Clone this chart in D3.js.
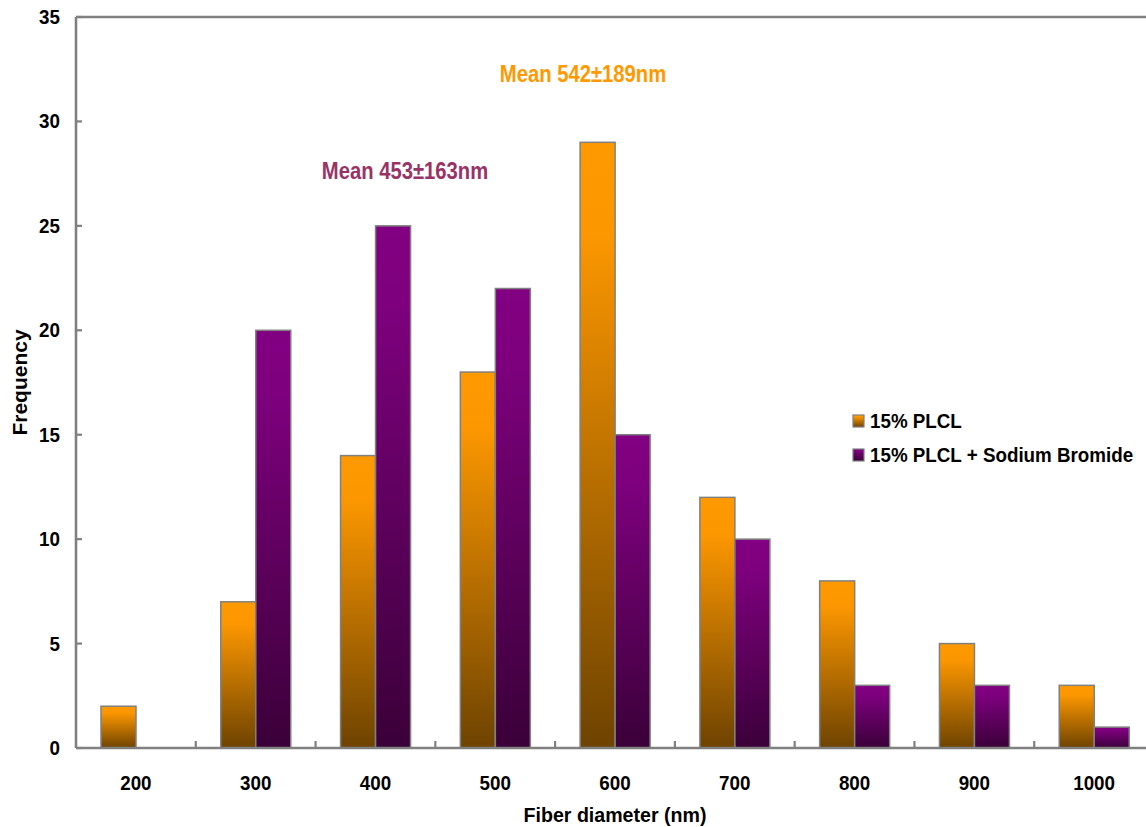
<!DOCTYPE html>
<html>
<head>
<meta charset="utf-8">
<script src="https://cdn.jsdelivr.net/npm/d3@7"></script>
<style>
  html, body { margin: 0; padding: 0; background: #fff; }
  svg { display: block; }
  text { font-family: "Liberation Sans", Arial, sans-serif; font-weight: bold; }
</style>
</head>
<body>
<svg id="chart" width="1146" height="827"></svg>
<script>
// Fiber diameter histogram bins (nm)
const categories = ["200", "300", "400", "500", "600", "700", "800", "900", "1000"];
// Frequency per bin
const plclValues = [2, 7, 14, 18, 29, 12, 8, 5, 3];
const sodiumValues = [0, 20, 25, 22, 15, 10, 3, 3, 1];
const seriesNames = ["15% PLCL", "15% PLCL + Sodium Bromide"];
const yTicks = [0, 5, 10, 15, 20, 25, 30, 35];
const meanLabels = ["Mean 542\u00b1189nm", "Mean 453\u00b1163nm"];

const svg = d3.select("#chart");
const m = { left: 76, top: 17, right: 1154, bottom: 748 };
const axisColor = "#808080";

const x = d3.scaleBand().domain(categories).range([m.left, m.right]).paddingInner(0).paddingOuter(0);
const y = d3.scaleLinear().domain([0, 35]).range([m.bottom, m.top]);
const sub = d3.scaleBand().domain([0, 1]).range([25, 95]);

// Vertical gradients, one per series, stretched over each bar
const defs = svg.append("defs");
const grads = [
  { id: "gOrange", stops: [[0, "#ff9900"], [0.15, "#fc9700"], [1, "#6e4300"]] },
  { id: "gPurple", stops: [[0, "#820082"], [0.15, "#7e007e"], [1, "#3a0038"]] }
];
grads.forEach(g => {
  const lg = defs.append("linearGradient").attr("id", g.id)
    .attr("x1", 0).attr("y1", 0).attr("x2", 0).attr("y2", 1);
  g.stops.forEach(s => lg.append("stop").attr("offset", s[0]).attr("stop-color", s[1]));
});

// Text helper with horizontal compression factor
function label(parent, px, py, str, size, anchor, fill, sx) {
  return parent.append("text")
    .attr("transform", `translate(${px},${py}) scale(${sx},1)`)
    .attr("text-anchor", anchor)
    .attr("font-size", size)
    .attr("fill", fill || "#000")
    .text(str);
}

// Bars
const series = [plclValues, sodiumValues];
series.forEach((vals, si) => {
  svg.append("g").selectAll("rect")
    .data(vals.map((v, i) => ({ v, c: categories[i] })).filter(d => d.v > 0))
    .join("rect")
    .attr("x", d => x(d.c) + sub(si))
    .attr("y", d => y(d.v))
    .attr("width", sub.bandwidth())
    .attr("height", d => y(0) - y(d.v))
    .attr("fill", `url(#${grads[si].id})`)
    .attr("stroke", axisColor)
    .attr("stroke-width", 1.5);
});

// Axes frame: left, top, bottom
const frame = svg.append("g").attr("stroke", axisColor).attr("stroke-width", 2.6).attr("fill", "none");
frame.append("line").attr("x1", m.left).attr("x2", m.left).attr("y1", m.top).attr("y2", m.bottom);
frame.append("line").attr("x1", m.left).attr("x2", m.right).attr("y1", m.top).attr("y2", m.top);
frame.append("line").attr("x1", m.left).attr("x2", m.right).attr("y1", m.bottom).attr("y2", m.bottom);

// Y ticks (inside) and labels
const yg = svg.append("g");
yTicks.forEach(t => {
  yg.append("line").attr("x1", m.left).attr("x2", m.left + 6)
    .attr("y1", y(t)).attr("y2", y(t)).attr("stroke", axisColor).attr("stroke-width", 2.2);
  label(yg, 60, y(t) + 7, String(t), 20, "end", "#000", 0.94);
});

// X ticks between bins (inside)
const xg = svg.append("g");
categories.slice(1).forEach(c => {
  xg.append("line").attr("x1", x(c)).attr("x2", x(c))
    .attr("y1", m.bottom).attr("y2", m.bottom - 7).attr("stroke", axisColor).attr("stroke-width", 2.2);
});
categories.forEach(c => {
  label(xg, x(c) + x.bandwidth() / 2, 790, c, 20, "middle", "#000", 0.94);
});

// Axis titles
label(svg, (m.left + m.right) / 2, 822, "Fiber diameter (nm)", 20, "middle", "#000", 0.98);
svg.append("text")
  .attr("transform", `translate(27,${(m.top + m.bottom) / 2}) rotate(-90)`)
  .attr("text-anchor", "middle").attr("font-size", 21).text("Frequency");

// Mean annotations
label(svg, 583, 82, meanLabels[0], 23, "middle", "#ff9900", 0.88);
label(svg, 405, 179, meanLabels[1], 23, "middle", "#993366", 0.88);

// Legend
const lg = svg.append("g");
seriesNames.forEach((n, i) => {
  const ly = 421 + i * 34;
  lg.append("rect").attr("x", 853).attr("y", ly - 6).attr("width", 11).attr("height", 12)
    .attr("fill", `url(#${grads[i].id})`).attr("stroke", axisColor).attr("stroke-width", 1.2);
  label(lg, 870, ly + 7, n, 20, "start", "#000", 0.94);
});
</script>
</body>
</html>
